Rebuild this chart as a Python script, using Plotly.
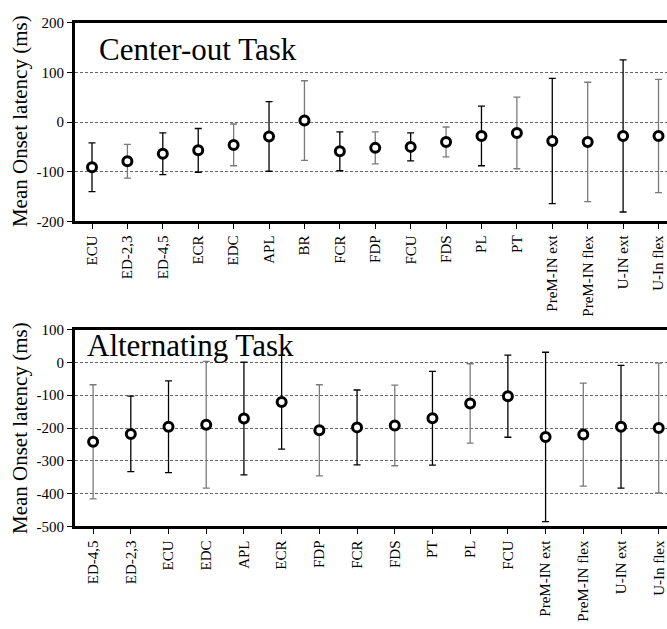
import plotly.graph_objects as go

# ---------------- data ----------------
top_muscles = ["ECU", "ED-2,3", "ED-4,5", "ECR", "EDC", "APL", "BR", "FCR", "FDP",
               "FCU", "FDS", "PL", "PT", "PreM-IN ext", "PreM-IN flex", "U-IN ext", "U-In flex"]
top_mean = [-91, -79, -64, -57, -46, -29, 3, -59, -52, -50, -40, -28, -22, -38, -40, -28, -28]
top_err = [49, 34, 42, 44, 42, 70, 80, 39, 32, 28, 30, 60, 72, 126, 120, 153, 114]
top_err_color = ["k", "g", "k", "k", "g", "k", "g", "k", "g", "k", "g", "k", "g", "k", "g", "k", "g"]

bot_muscles = ["ED-4,5", "ED-2,3", "ECU", "EDC", "APL", "ECR", "FDP", "FCR", "FDS",
               "PT", "PL", "FCU", "PreM-IN ext", "PreM-IN flex", "U-IN ext", "U-In flex"]
bot_mean = [-242, -218, -196, -190, -171, -121, -207, -198, -192, -170, -125, -103, -227, -220, -196, -200]
bot_err = [174, 115, 140, 193, 172, 143, 139, 114, 123, 143, 121, 125, 258, 157, 187, 198]
bot_err_color = ["g", "k", "k", "g", "k", "k", "g", "k", "g", "k", "g", "k", "k", "g", "k", "g"]

top_yticks = [-200, -100, 0, 100, 200]
bot_yticks = [-500, -400, -300, -200, -100, 0, 100]

# ---------------- figure ----------------
W, H = 667, 629
FONT = "Liberation Serif"
COLORS = {"k": "#000000", "g": "#7a7a7a"}

fig = go.Figure()


def add_panel(names, means, errs, cols, xa, ya):
    for name, m, e, c in zip(names, means, errs, cols):
        fig.add_trace(go.Scatter(
            x=[name], y=[m], xaxis=xa, yaxis=ya, mode="markers",
            marker=dict(symbol="circle", size=9, color="white",
                        line=dict(color="black", width=3)),
            error_y=dict(type="data", array=[e], visible=True,
                         color=COLORS[c], thickness=1.3, width=3.5),
            showlegend=False, hoverinfo="x+y"))


add_panel(top_muscles, top_mean, top_err, top_err_color, "x", "y")
add_panel(bot_muscles, bot_mean, bot_err, bot_err_color, "x2", "y2")

x0 = 75 / W


def yd(top_px, bot_px):
    return [1 - bot_px / H, 1 - top_px / H]


common_x = dict(type="category", showline=True, linewidth=3, linecolor="black", mirror=True,
                ticks="outside", ticklen=5, tickwidth=1, tickcolor="black",
                tickangle=-90, tickfont=dict(family=FONT, size=15, color="black"),
                showgrid=False, zeroline=False)
common_y = dict(showline=True, linewidth=3, linecolor="black", mirror=False,
                ticks="outside", ticklen=5, tickwidth=1, tickcolor="black",
                tickfont=dict(family=FONT, size=15, color="black"),
                showgrid=True, gridcolor="#666666", gridwidth=1, griddash="3px,2px",
                zeroline=False)

fig.update_layout(
    width=W, height=H,
    margin=dict(l=0, r=0, t=0, b=0),
    paper_bgcolor="white", plot_bgcolor="white",
    font=dict(family=FONT, color="black"),
    xaxis=dict(common_x, domain=[x0, 1], anchor="y",
               range=[-0.48, 16.24], categoryorder="array", categoryarray=top_muscles),
    yaxis=dict(common_y, domain=yd(15, 219), anchor="x", range=[-200, 200],
               tickvals=top_yticks, ticktext=[str(v) for v in top_yticks]),
    xaxis2=dict(common_x, domain=[x0, 1], anchor="y2",
                range=[-0.48, 15.22], categoryorder="array", categoryarray=bot_muscles),
    yaxis2=dict(common_y, domain=yd(330, 532), anchor="x2", range=[-500, 100],
                tickvals=bot_yticks, ticktext=[str(v) for v in bot_yticks]),
    annotations=[
        dict(text="Center-out Task", xref="paper", yref="paper", x=97 / W, y=1 - 43 / H,
             xanchor="left", yanchor="middle", showarrow=False,
             font=dict(family=FONT, size=31, color="black")),
        dict(text="Alternating Task", xref="paper", yref="paper", x=85 / W, y=1 - 346 / H,
             xanchor="left", yanchor="middle", showarrow=False,
             font=dict(family=FONT, size=31, color="black")),
        dict(text="Mean Onset latency (ms)", xref="paper", yref="paper", x=20 / W,
             y=1 - 116 / H, textangle=-90, xanchor="center", yanchor="middle",
             showarrow=False, font=dict(family=FONT, size=21, color="black")),
        dict(text="Mean Onset latency (ms)", xref="paper", yref="paper", x=20 / W,
             y=1 - 431 / H, textangle=-90, xanchor="center", yanchor="middle",
             showarrow=False, font=dict(family=FONT, size=21, color="black")),
    ],
)

fig.write_html("out.html")
